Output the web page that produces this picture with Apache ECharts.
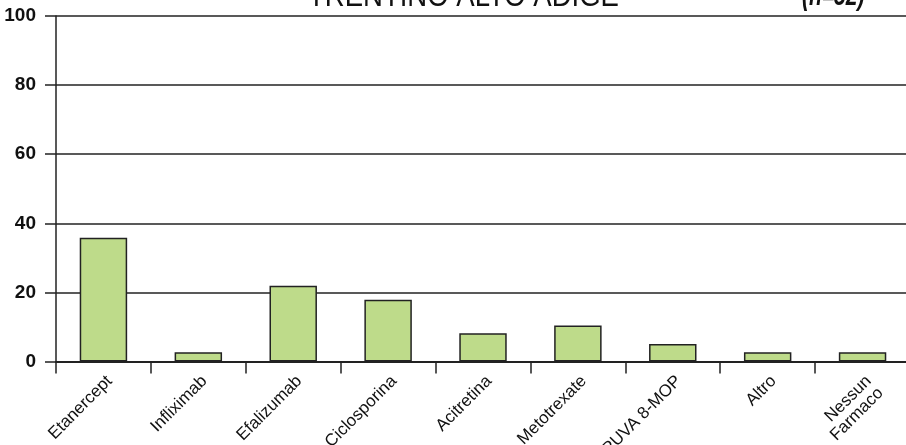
<!DOCTYPE html>
<html><head><meta charset="utf-8">
<script src="https://cdn.jsdelivr.net/npm/echarts@6/dist/echarts.min.js"></script>
<style>html,body{margin:0;padding:0;background:#fff}#c{width:906px;height:445px}</style>
</head><body><div id="c"></div>
<script>
const categories = ['Etanercept','Infliximab','Efalizumab','Ciclosporina','Acitretina','Metotrexate','PUVA 8-MOP','Altro','Nessun\nFarmaco'];
const values = [35.8, 2.7, 21.9, 17.9, 8.2, 10.4, 5.1, 2.7, 2.7];
const yTicks = [0, 20, 40, 60, 80, 100];
const titleText = 'TRENTINO ALTO ADIGE';
const nText = '(n=52)';
const FONT = '"Liberation Sans",Arial,sans-serif';
const chart = echarts.init(document.getElementById('c'));
chart.setOption({
  animation: false,
  backgroundColor: '#fff',
  grid: { left: 56, top: 16, width: 854, height: 345.5, containLabel: false, outerBoundsMode: 'none' },
  graphic: [
    { type: 'text', x: 308, y: -3, scaleX: 0.86, style: { text: titleText, font: '32px ' + FONT, fill: '#111', verticalAlign: 'middle', align: 'left' } },
    { type: 'text', x: 802, y: -3, scaleX: 0.7, style: { text: nText, font: 'italic bold 30px ' + FONT, fill: '#111', verticalAlign: 'middle', align: 'left' } }
  ],
  xAxis: {
    type: 'category', data: categories,
    axisLine: { lineStyle: { color: '#222', width: 2 } },
    axisTick: { show: true, length: 12, lineStyle: { color: '#222', width: 1.5 } },
    axisLabel: { rotate: 45, margin: 11, verticalAlign: 'top', fontFamily: FONT, fontSize: 17, color: '#111', lineHeight: 17, interval: 0 }
  },
  yAxis: {
    type: 'value', min: 0, max: 100, interval: 20,
    axisLine: { show: true, lineStyle: { color: '#222', width: 1.5 } },
    axisTick: { show: true, length: 11, lineStyle: { color: '#222', width: 1.5 } },
    axisLabel: { margin: 20, fontFamily: FONT, fontWeight: 'bold', fontSize: 19, color: '#111',
      formatter: v => yTicks.includes(v) ? String(v) : '' },
    splitLine: { show: true, lineStyle: { color: '#222', width: 1.5 } }
  },
  series: [{
    type: 'bar', data: values, barWidth: '50%',
    itemStyle: { color: '#bedb8a', borderColor: '#222', borderWidth: 1.5 }
  }]
});
</script></body></html>
